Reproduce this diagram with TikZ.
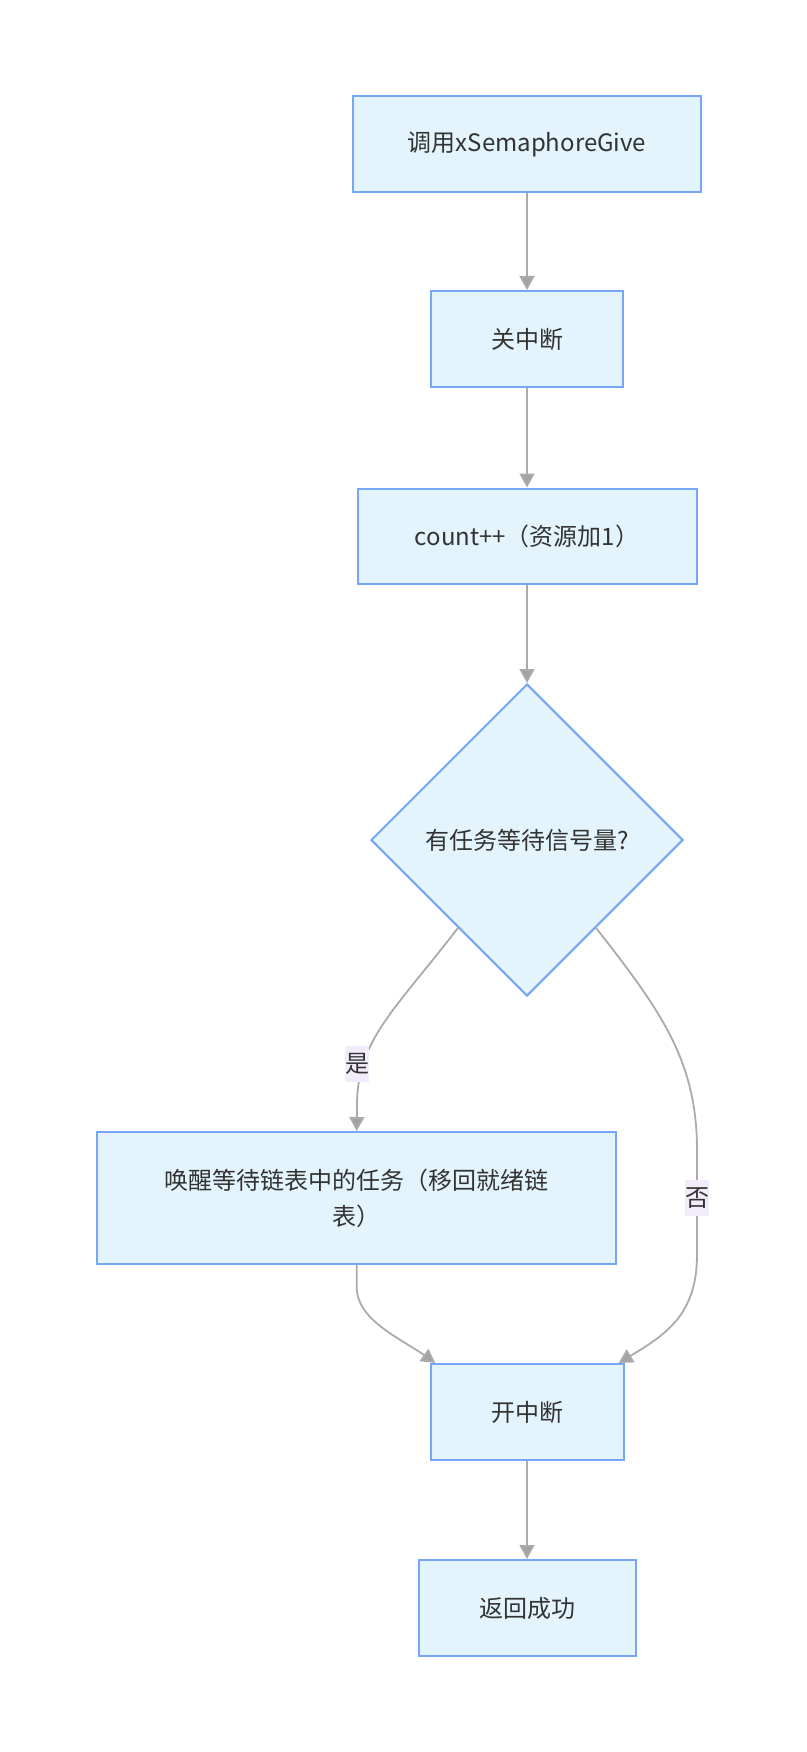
\documentclass[tikz,border=0pt]{standalone}
\usepackage{fontspec}
\setmainfont{Noto Sans CJK SC}
\usetikzlibrary{shapes.geometric,arrows.meta,calc}
\definecolor{boxfill}{HTML}{E3F4FD}
\definecolor{boxline}{HTML}{76A6F7}
\definecolor{edgec}{HTML}{ABABAB}
\definecolor{tipc}{HTML}{A3A3A3}
\definecolor{txt}{HTML}{333333}
\definecolor{lblbg}{HTML}{F2EBFA}
\begin{document}
\begin{tikzpicture}[x=1pt,y=-1pt,
  box/.style={draw=boxline,fill=boxfill,line width=2pt,inner sep=0pt,text=txt,
    font=\fontsize{24}{36}\selectfont,align=center},
  arr/.style={draw=edgec,line width=1.8pt,-{Triangle[length=14pt,width=15pt,fill=tipc]}},
  lbl/.style={fill=lblbg,text=txt,inner sep=0pt,minimum width=24pt,minimum height=36pt,
    font=\fontsize{24}{36}\selectfont}]
\path[fill=white] (0,0) rectangle (806,1752);
\node[box,minimum width=348pt,minimum height=96pt] (n1) at (527,144) {调用xSemaphoreGive};
\node[box,minimum width=192pt,minimum height=96pt] (n2) at (527,339) {关中断};
\node[box,minimum width=339pt,minimum height=95pt] (n3) at (527,536) {count++（资源加1）};
\node[box,diamond,minimum width=312pt,minimum height=312pt] (d) at (527,840) {有任务等待信号量?};
\node[box,minimum width=519pt,minimum height=132pt] (wake) at (356.7,1198) {唤醒等待链表中的任务（移回就绪链\\表）};
\node[box,minimum width=193pt,minimum height=96pt] (open) at (527,1412) {开中断};
\node[box,minimum width=217pt,minimum height=96pt] (ret) at (527,1608) {返回成功};
\draw[arr] (n1) -- (n2);
\draw[arr] (n2) -- (n3);
\draw[arr] (n3) -- (d);
\coordinate (ys) at ($(d.west)!0.56!(d.south)$);
\coordinate (ns) at ($(d.east)!0.56!(d.south)$);
\coordinate (oL) at ($(open.north)!0.94!(open.north west)$);
\coordinate (oR) at ($(open.north)!0.94!(open.north east)$);
\draw[arr] (ys) .. controls (395,1010) and (357,1040) .. (357,1105) -- (wake.north);
\draw[arr] (ns) .. controls (660,1010) and (697,1060) .. (697,1150) -- (697,1255) .. controls (697,1315) and (665,1335) .. (oR);
\draw[arr] (wake.south) -- ++(0,22) .. controls (356.7,1320) and (400,1338) .. (oL);
\draw[arr] (open) -- (ret);
\node[lbl] (yl) at (357,1064) {是};
\node[lbl] (nl) at (697,1198) {否};
\end{tikzpicture}
\end{document}
